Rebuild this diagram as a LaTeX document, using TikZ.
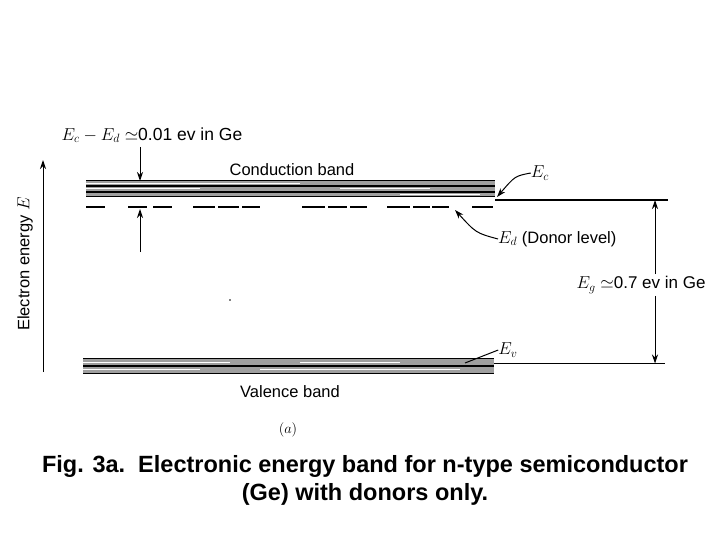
\documentclass[tikz,border=0pt]{standalone}
\usepackage{fontspec}
\setmainfont{Liberation Sans}
\usetikzlibrary{arrows.meta}
\begin{document}
\begin{tikzpicture}[x=1pt,y=-1pt,
  lbl/.style={font=\fontsize{16.5}{18}\selectfont, inner sep=0pt},
  capt/.style={font=\fontsize{23.5}{28}\selectfont\bfseries, align=center, inner sep=0pt},
  bandline/.style={line width=1.4pt},
  whiteline/.style={white, line width=1pt},
  lvl/.style={line width=1.3pt},
  dashseg/.style={line width=1.6pt},
  arr/.style={line width=1pt, arrows={-Stealth[length=9pt,width=6pt]}},
  lead/.style={line width=1pt}]
\useasboundingbox (0,0) rectangle (720,540);

% conduction band
\fill[gray!75] (86,181) rectangle (495,197);
\draw[bandline] (86,180.5) -- (495,180.5);
\draw[bandline] (86,186) -- (495,186);
\draw[bandline] (86,192) -- (495,192);
\draw[bandline] (86,196.8) -- (495,196.8);
\draw[whiteline] (86,183.2) -- (300,183.2);
\draw[whiteline] (86,189) -- (200,189) (340,189) -- (430,189);
\draw[whiteline] (400,194.3) -- (480,194.3);

% Ec level line
\coordinate (ecend) at (668,200);
\draw[lvl] (495,200) -- (ecend);

% donor level (dashed)
\foreach \a/\b in {86/105,128/147,153/172,193/215,218/239,242/260,302/325,328/347,350/367,387/410,413/430,432/449,472/493}
  \draw[dashseg] (\a,207) -- (\b,207);

% valence band
\fill[gray!75] (83,359) rectangle (494,374);
\draw[bandline] (83,358.5) -- (494,358.5);
\draw[bandline] (83,366) -- (494,366);
\draw[bandline] (83,373.5) -- (494,373.5);
\draw[whiteline] (83,362.5) -- (230,362.5) (300,362.5) -- (400,362.5);
\draw[whiteline] (83,369.5) -- (200,369.5) (260,369.5) -- (460,369.5);

% Ev level line
\coordinate (evend) at (665,363.5);
\draw[lvl] (494,363.5) -- (evend);

% axis
\coordinate (axb) at (43,372);
\coordinate (axt) at (43,160);
\draw[arr] (axb) -- (axt);
\node[lbl, rotate=90] (axlbl) at (25,264) {Electron energy \(E\)};

% Ec - Ed label with arrows
\node[lbl, font=\fontsize{17.5}{19}\selectfont] (edlbl) at (152,135) {\(E_c - E_d \simeq\)0.01 ev in Ge};
\coordinate (cbot) at (140,181);
\coordinate (dtop) at (140,209);
\coordinate (dlow) at (140,252);
\draw[arr] (140,147) -- (cbot);
\draw[arr] (dlow) -- (dtop);

% conduction band label
\node[lbl] (cb) at (292,170) {Conduction band};

% Ec label
\node[lbl] (ec) at (540,173) {\(E_c\)};
\coordinate (ectip) at (497,197);
\draw[arr] (ec.west) .. controls (515,176) .. (ectip);

% Ed label
\node[lbl, anchor=west] (ed) at (498,239) {\(E_d\) (Donor level)};
\coordinate (edtip) at (455,210);
\draw[arr] (ed.west) .. controls (476,233) .. (edtip);

% Eg label and arrow
\node[lbl, font=\fontsize{17}{19}\selectfont, inner sep=2pt] (eg) at (641,285) {\(E_g \simeq\)0.7 ev in Ge};
\coordinate (egtop) at (655,200);
\coordinate (egbot) at (655,363.5);
\draw[arr] (egtop |- eg.north) -- (egtop);
\draw[arr] (egbot |- eg.south) -- (egbot);

% Ev label
\node[lbl] (ev) at (508,350) {\(E_v\)};
\coordinate (evtip) at (465,363);
\draw[lead] (ev.west) -- (evtip);

% stray dot
\fill (230,300) circle (0.8pt);

% valence band label
\node[lbl] (vb) at (290,392) {Valence band};
\node[lbl, font=\fontsize{15}{17}\selectfont] (sub) at (288,430) {\((a)\)};

% caption
\node[capt] (cap) at (365,480) {Fig. 3a.\ \ Electronic energy band for n-type semiconductor\\(Ge) with donors only.};
\end{tikzpicture}
\end{document}
